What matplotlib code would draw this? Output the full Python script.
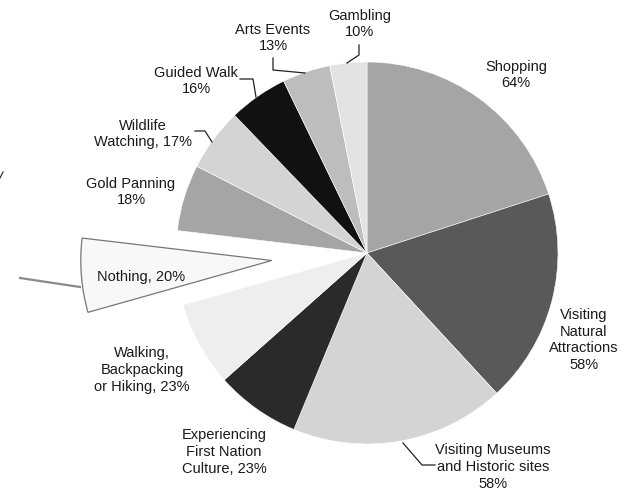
import matplotlib.pyplot as plt

plt.rcParams['font.family'] = ['Liberation Sans', 'DejaVu Sans']

# Activities undertaken (multiple responses, so shares add up to more than 100)
activities = ["Shopping", "Visiting Natural Attractions", "Visiting Museums and Historic sites",
              "Experiencing First Nation Culture", "Walking, Backpacking or Hiking",
              "Nothing", "Gold Panning", "Wildlife Watching", "Guided Walk",
              "Arts Events", "Gambling"]
percent = [64, 58, 58, 23, 23, 20, 18, 17, 16, 13, 10]
label_text = ["Shopping\n64%", "Visiting\nNatural\nAttractions\n58%",
              "Visiting Museums\nand Historic sites\n58%",
              "Experiencing\nFirst Nation\nCulture, 23%",
              "Walking,\nBackpacking\nor Hiking, 23%", "Nothing, 20%",
              "Gold Panning\n18%", "Wildlife\nWatching, 17%", "Guided Walk\n16%",
              "Arts Events\n13%", "Gambling\n10%"]
shades = ["#a5a5a5", "#595959", "#d4d4d4", "#2a2a2a", "#eeeeee", "#f8f8f8",
          "#a5a5a5", "#d4d4d4", "#111111", "#bdbdbd", "#e3e3e3"]

W, H = 633, 494
CX, CY, R = 367, 253, 191   # pie centre and radius in pixels


def px(x, y):
    # pixel position -> data units (pie radius = 1)
    return (x - CX) / R, (CY - y) / R


fig = plt.figure(figsize=(W / 100, H / 100), dpi=100)
ax = fig.add_axes([0, 0, 1, 1])

explode = [0.5 if a == "Nothing" else 0 for a in activities]
wedges, _ = ax.pie(percent, colors=shades, startangle=90, counterclock=False,
                   explode=explode, radius=1, center=(0, 0),
                   wedgeprops=dict(edgecolor="white", linewidth=0.4))
nothing = wedges[activities.index("Nothing")]
nothing.set_edgecolor("#777777")
nothing.set_linewidth(0.9)

# pie() resets the limits, so set them afterwards
ax.set_xlim(-CX / R, (W - CX) / R)
ax.set_ylim(-(H - CY) / R, CY / R)
ax.set_aspect("equal")
ax.axis("off")

# label positions (pixel centres)
label_pos = [(516, 75), (584, 340), (493, 467), (224, 452), (142, 370), (141, 277),
             (131, 192), (143, 134), (196, 81), (273, 38), (360, 24)]
for txt, (x, y) in zip(label_text, label_pos):
    ax.text(*px(x, y), txt, ha="center", va="center", fontsize=10.5,
            color="#1a1a1a", linespacing=1.25)

# leader lines
leaders = [
    [(359, 45), (359, 55), (347, 63)],
    [(273, 58), (273, 70), (305, 73)],
    [(240, 79), (253, 79), (256, 97)],
    [(195, 131), (205, 131), (212, 142)],
    [(403, 443), (422, 465), (435, 465)],
]
for pts in leaders:
    xs, ys = zip(*[px(x, y) for x, y in pts])
    ax.plot(xs, ys, color="#222222", lw=0.9)

xs, ys = zip(*[px(20, 278), px(80, 287)])
ax.plot(xs, ys, color="#8a8a8a", lw=1.6)
xs, ys = zip(*[px(0, 178), px(3, 172)])
ax.plot(xs, ys, color="#333333", lw=0.9)

fig.savefig("out.png", dpi=100)
